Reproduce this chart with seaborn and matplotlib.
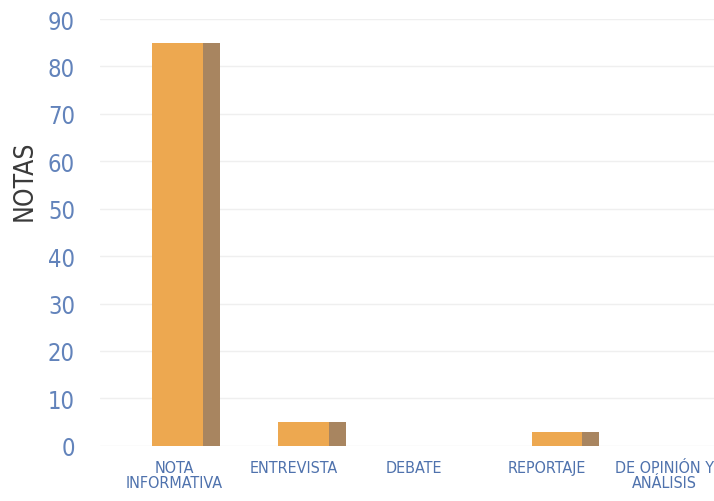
import matplotlib
matplotlib.use('Agg')
import matplotlib.pyplot as plt
import seaborn as sns
import pandas as pd

# Data
categories = ['NOTA\nINFORMATIVA', 'ENTREVISTA', 'DEBATE', 'REPORTAJE', 'DE OPINIÓN Y\nANÁLISIS']
notas = [85, 5, 0, 3, 0]

sns.set_style('white')
plt.rcParams['font.family'] = ['DejaVu Sans']
plt.rcParams['font.stretch'] = 'condensed'

df = pd.DataFrame({'tipo': categories, 'notas': notas})

fig = plt.figure(figsize=(7.14, 5.02), dpi=100)
ax = fig.add_axes([0.14, 0.11, 0.86, 0.85])

front = '#eda850'
side = '#a88560'
face_w = 0.40
side_w = 0.135

# front face of the bars
sns.barplot(data=df, x='tipo', y='notas', color=front, width=face_w,
            saturation=1, ax=ax, zorder=3, linewidth=0)
# darker side face for the 3D look
pos = range(len(categories))
ax.bar([p + face_w / 2 + side_w / 2 for p in pos], notas, width=side_w,
       color=side, zorder=3, linewidth=0)

ax.set_xlim(-0.61, 4.24)
ax.set_ylim(0, 90)
ax.set_yticks(range(0, 91, 10))
# label positions as laid out in the original
ax.set_xticks([-0.02, 0.92, 1.87, 2.92, 3.85])
ax.set_xticklabels(categories)
ax.grid(axis='y', color='#efefef', linewidth=1, zorder=0)
ax.grid(axis='x', visible=False)

for s in ax.spines.values():
    s.set_visible(False)

ax.tick_params(axis='y', length=0, pad=18, labelsize=17, labelcolor='#6283bb')
ax.tick_params(axis='x', length=0, pad=10, labelsize=11.5, labelcolor='#4f72ad')
for lab in ax.get_xticklabels():
    lab.set_linespacing(1.0)

ax.set_xlabel('')
ax.set_ylabel('')
fig.text(0.035, 0.64, 'NOTAS', rotation=90, fontsize=19, color='#3a3a3a',
         ha='center', va='center')

fig.savefig('out.png', dpi=100)
